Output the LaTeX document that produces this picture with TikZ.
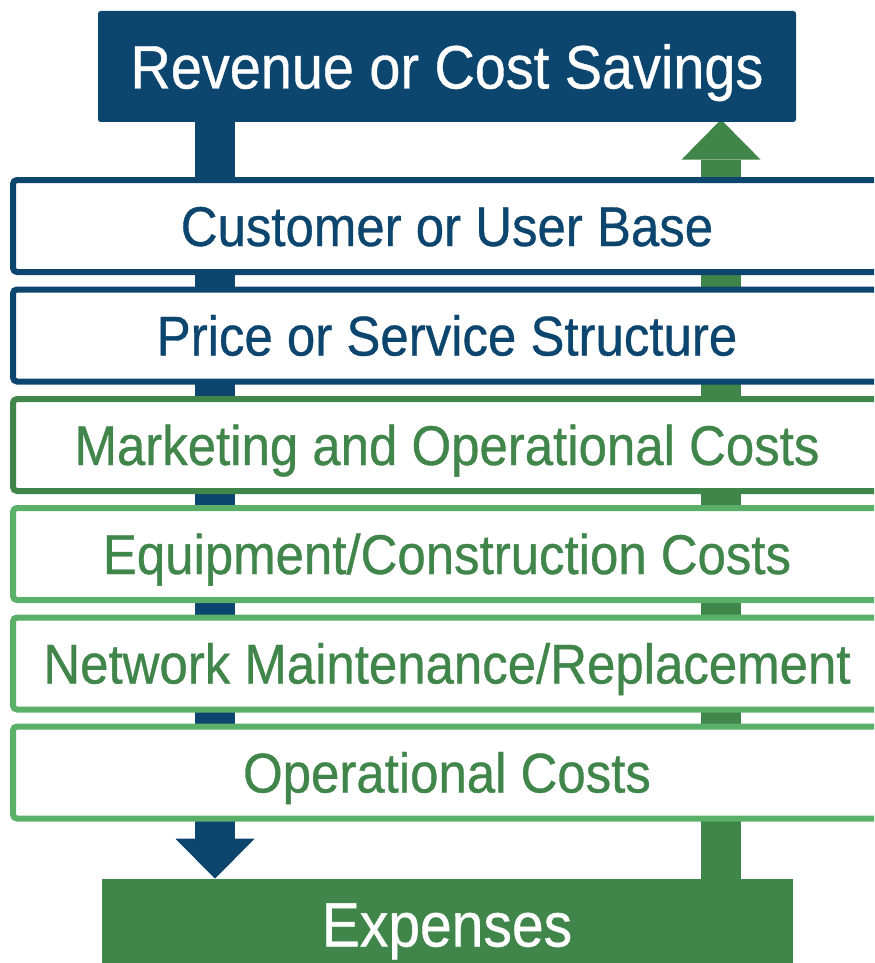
\documentclass[tikz,border=0pt]{standalone}
\usepackage{fontspec}
\setmainfont{Liberation Sans}[FakeStretch=0.91,FakeBold=0.6]
\usetikzlibrary{arrows.meta}
\usetikzlibrary{backgrounds}
\definecolor{navy}{RGB}{12,69,110}
\definecolor{dkgreen}{RGB}{64,133,74}
\definecolor{ltgreen}{RGB}{90,176,104}
\begin{document}
\begin{tikzpicture}[x=0.75pt,y=-0.75pt,
        layer/.style={draw,line width=4.5pt,fill=white,rounded corners=3pt,
            minimum width=651pt,minimum height=69pt,inner sep=0pt,
            font=\fontsize{42}{42}\selectfont,text height=30pt,text depth=0pt},
        endbox/.style={fill=#1,text=white,inner sep=0pt,rounded corners=2pt,
            text height=33pt,text depth=0pt},
        bar/.style={line width=30pt,draw=#1,
            -{Triangle[width=59.25pt,length=30pt,line width=0pt]}}]
    \useasboundingbox (0,0) rectangle (874,963);
    \clip (0,0) rectangle (874,963);

    \node[endbox=navy,minimum width=523.5pt,minimum height=83.25pt,
        font=\fontsize{46}{46}\selectfont] (rev) at (447,66.5) {Revenue or Cost Savings};
    \node[layer,draw=navy,text=navy]       (cust)  at (447,226)   {Customer or User Base};
    \node[layer,draw=navy,text=navy]       (price) at (447,335.5) {Price or Service Structure};
    \node[layer,draw=dkgreen,text=dkgreen] (mkt)   at (447,445)   {Marketing and Operational Costs};
    \node[layer,draw=ltgreen,text=dkgreen] (equip) at (447,554)   {Equipment/Construction Costs};
    \node[layer,draw=ltgreen,text=dkgreen] (net)   at (447,663.5) {Network Maintenance/Replacement};
    \node[layer,draw=ltgreen,text=dkgreen] (oper)  at (447,772.5) {Operational Costs};
    \node[endbox=dkgreen,rounded corners=0pt,minimum width=518.25pt,minimum height=68.25pt,
        font=\fontsize{47}{47}\selectfont] (exp) at (447,924.5) {Expenses};

    \begin{pgfonlayer}{background}
        \draw[bar=navy]    ([xshift=-174pt]rev.south) -- ([xshift=-174pt]exp.north);
        \draw[bar=dkgreen] ([xshift=205.5pt]exp.north) -- ([xshift=205.5pt,yshift=2pt]rev.south);
    \end{pgfonlayer}
\end{tikzpicture}
\end{document}
